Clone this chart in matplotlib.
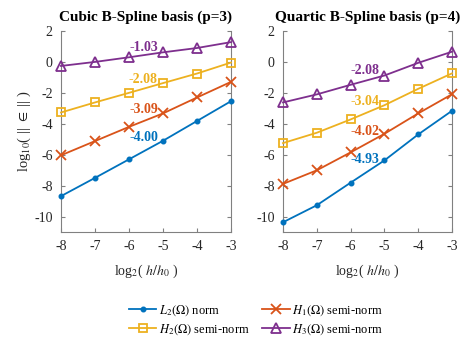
import matplotlib
matplotlib.use("Agg")
import matplotlib.pyplot as plt

plt.rcParams['font.family'] = ['Liberation Serif', 'DejaVu Serif']
plt.rcParams['mathtext.fontset'] = 'stix'

x = [-8, -7, -6, -5, -4, -3]

# Cubic (p=3)
cubic_L2 = [-8.68, -7.50, -6.30, -5.10, -3.82, -2.54]
cubic_H1 = [-6.04, -5.12, -4.20, -3.33, -2.30, -1.29]
cubic_H2 = [-3.27, -2.62, -2.00, -1.37, -0.75, -0.04]
cubic_H3 = [-0.26, 0.00, 0.30, 0.62, 0.90, 1.28]
cubic_slopes = ['-4.00', '-3.09', '-2.08', '-1.03']
cubic_slope_y = [-4.9, -3.1, -1.12, 0.92]

# Quartic (p=4)
quart_L2 = [-10.37, -9.27, -7.81, -6.37, -4.69, -3.16]
quart_H1 = [-7.89, -7.01, -5.85, -4.65, -3.33, -2.09]
quart_H2 = [-5.25, -4.58, -3.72, -2.80, -1.74, -0.74]
quart_H3 = [-2.62, -2.10, -1.48, -0.88, -0.06, 0.66]
quart_slopes = ['-4.93', '-4.02', '-3.04', '-2.08']
quart_slope_y = [-6.32, -4.5, -2.56, -0.58]

slope_x = -5.15

titles = ['Cubic B-Spline basis (p=3)', 'Quartic B-Spline basis (p=4)']
labels = [r'$L_2(\Omega)$ norm', r'$H_1(\Omega)$ semi-norm',
          r'$H_2(\Omega)$ semi-norm', r'$H_3(\Omega)$ semi-norm']
colors = ['#0072BD', '#D95319', '#EDB120', '#7E2F8E']
markers = ['.', 'x', 's', '^']
msizes = [6, 7, 6, 7.5]

yticks = [-10, -8, -6, -4, -2, 0, 2]
xticks = [-8, -7, -6, -5, -4, -3]

fig = plt.figure(figsize=(4.67, 3.45), dpi=100)
axL = fig.add_axes([61/467, 1-232/345, 170/467, 201/345])
axR = fig.add_axes([283/467, 1-232/345, 169/467, 201/345])

data = [(cubic_L2, cubic_H1, cubic_H2, cubic_H3), (quart_L2, quart_H1, quart_H2, quart_H3)]
slopes = [cubic_slopes, quart_slopes]
slope_ys = [cubic_slope_y, quart_slope_y]

handles = []
for i, ax in enumerate([axL, axR]):
    hs = []
    for j, series in enumerate(data[i]):
        h, = ax.plot(x, series, color=colors[j], marker=markers[j], ms=msizes[j],
                     mfc='none' if markers[j] in ('s', '^') else colors[j],
                     mew=1.3, lw=1.3, label=labels[j], clip_on=False, zorder=3)
        hs.append(h)
    handles = hs
    for j in range(4):
        ax.text(slope_x, slope_ys[i][j], slopes[i][j], color=colors[j],
                fontsize=10, fontweight='bold', ha='right', va='center', zorder=4)
    ax.set_xlim(-8, -3)
    ax.set_ylim(-11, 2)
    ax.set_xticks(xticks)
    ax.set_yticks(yticks)
    ax.set_xticklabels([str(v) for v in xticks])
    ax.set_yticklabels([str(v) for v in yticks])
    ax.tick_params(direction='in', length=3, width=0.8, colors='#808080',
                   labelcolor='#262626', labelsize=10, right=True, top=False, pad=6)
    for s in ['left', 'right', 'bottom']:
        ax.spines[s].set_color('#808080')
        ax.spines[s].set_linewidth(0.8)
    ax.spines['top'].set_visible(False)
    ax.set_title(titles[i], fontsize=11, fontweight='bold', pad=7)
    ax.set_xlabel(r'log$_2$( $h/h_0$ )', fontsize=10, color='#262626', labelpad=7)

axL.set_ylabel(r'log$_{10}$( || $\in$ || )', fontsize=10.5, color='#262626', labelpad=1)

order = [0, 2, 1, 3]
fig.legend([handles[k] for k in order], [labels[k] for k in order], ncol=2,
           loc='center', bbox_to_anchor=(256/467, 1-320/345), frameon=False,
           fontsize=9, handlelength=2.2, handletextpad=0.2, columnspacing=1.0,
           labelspacing=0.4)

fig.savefig('out.png', dpi=100)
